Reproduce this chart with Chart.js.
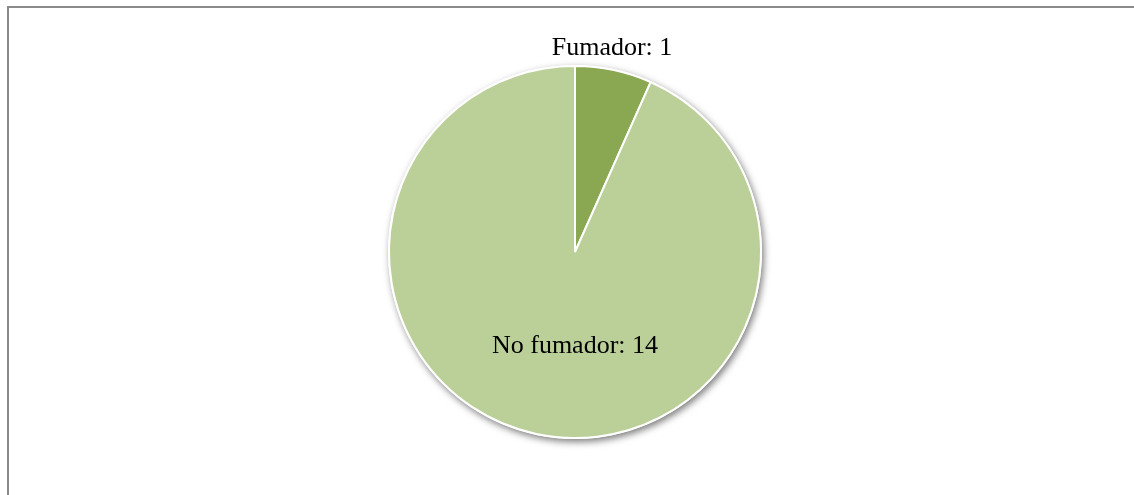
<!DOCTYPE html>
<html>
<head>
<meta charset="utf-8">
<script src="https://cdn.jsdelivr.net/npm/chart.js@4"></script>
<style>
  html, body { margin: 0; padding: 0; background: #fff; }
  #wrap { position: relative; width: 1134px; height: 495px; overflow: hidden; }
  #frame { position: absolute; left: 7px; top: 6px; width: 1200px; height: 600px;
           border-left: 2px solid #8a8a8a; border-top: 2px solid #8a8a8a; }
  canvas { position: absolute; left: 0; top: 0; }
</style>
</head>
<body>
<div id="wrap">
  <div id="frame"></div>
  <canvas id="pie" width="1134" height="495"></canvas>
</div>
<script>
const categories = ['Fumador', 'No fumador'];
const values = [1, 14];
const colors = ['#8aa752', '#bbcf99'];

// labels like Excel: first one outside, second one inside the big slice
const labelPlugin = {
    id: 'sliceLabels',
    beforeDatasetsDraw(chart) {
        const arc = chart.getDatasetMeta(0).data[0];
        const ctx = chart.ctx;
        ctx.save();
        ctx.shadowColor = 'rgba(0,0,0,0.5)';
        ctx.shadowBlur = 7;
        ctx.shadowOffsetX = 2;
        ctx.shadowOffsetY = 3;
        ctx.beginPath();
        ctx.arc(arc.x, arc.y, arc.outerRadius + 1, 0, Math.PI * 2);
        ctx.fillStyle = '#ffffff';
        ctx.fill();
        ctx.restore();
    },
    afterDatasetsDraw(chart) {
        const meta = chart.getDatasetMeta(0);
        const ctx = chart.ctx;
        ctx.save();
        ctx.font = '26px "Liberation Serif", "Times New Roman", serif';
        ctx.fillStyle = '#000';
        ctx.textAlign = 'center';
        ctx.textBaseline = 'middle';
        meta.data.forEach((a, i) => {
            const text = categories[i] + ': ' + values[i];
            const mid = (a.startAngle + a.endAngle) / 2;
            let x, y;
            if (i === 0) {
                x = a.x + Math.cos(mid) * (a.outerRadius - 8);
                y = a.y + Math.sin(mid) * (a.outerRadius + 22);
            } else {
                x = a.x;
                y = a.y + a.outerRadius * 0.5 + 1;
            }
            ctx.fillText(text, x, y);
        });
        ctx.restore();
    }
};

new Chart(document.getElementById('pie'), {
    type: 'pie',
    data: {
        labels: categories,
        datasets: [{
            data: values,
            backgroundColor: colors,
            borderColor: '#ffffff',
            borderWidth: 2
        }]
    },
    options: {
        responsive: false,
        animation: false,
        events: [],
        layout: { padding: { top: 65, bottom: 56, left: 16, right: 0 } },
        plugins: {
            legend: { display: false },
            tooltip: { enabled: false }
        }
    },
    plugins: [labelPlugin]
});
</script>
</body>
</html>
